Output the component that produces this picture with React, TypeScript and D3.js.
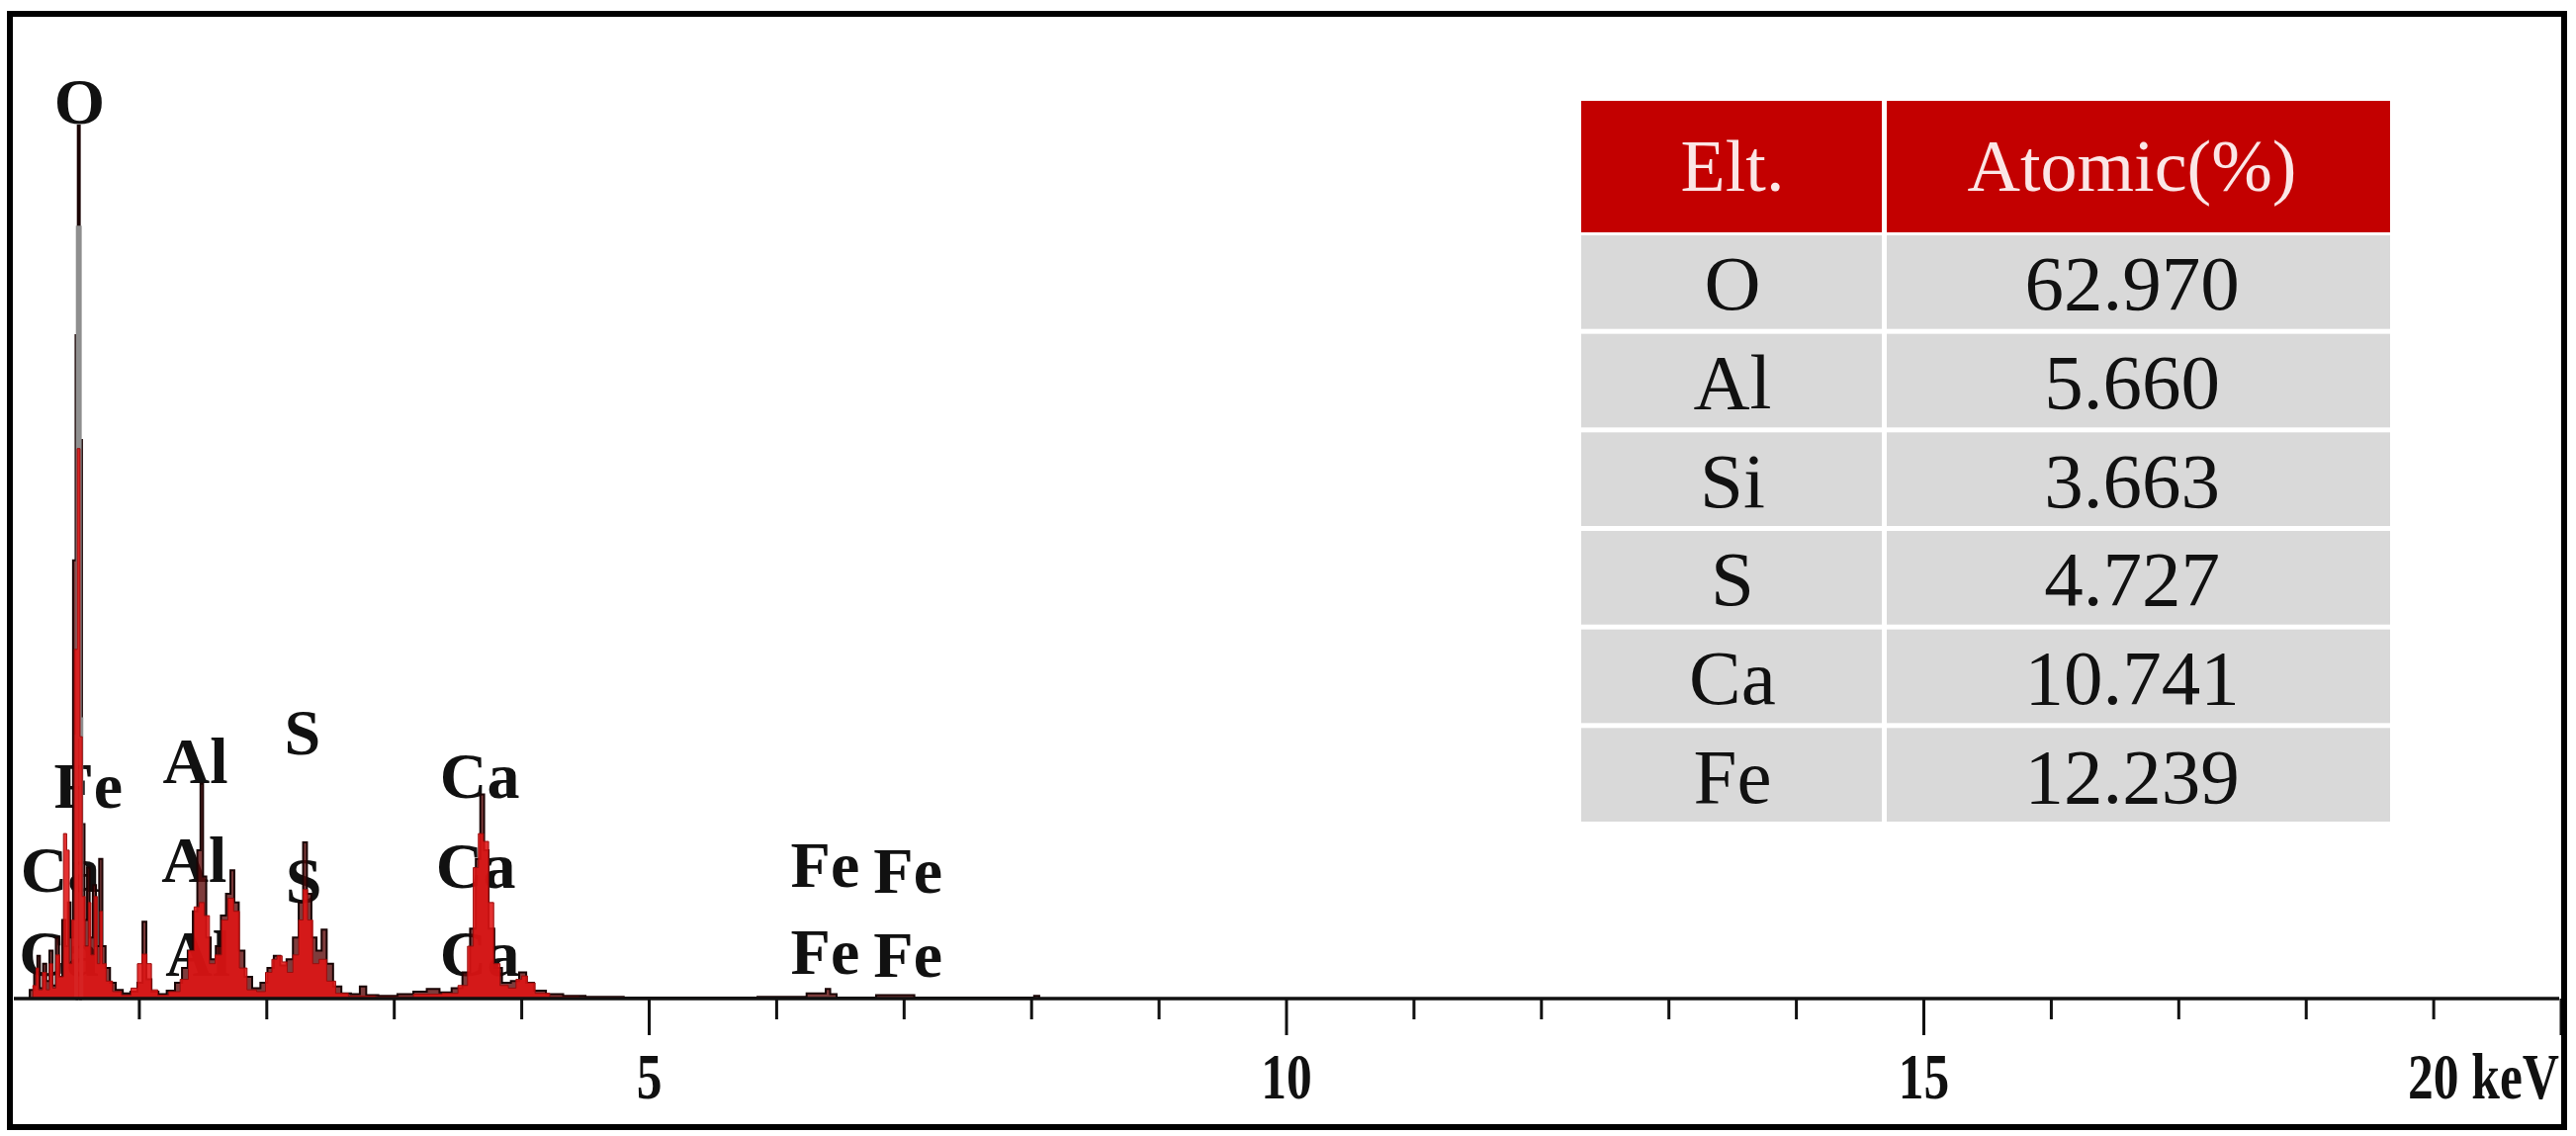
import React, { useRef, useEffect } from "react";
import * as d3 from "d3";

const W = 2605;
const H = 1149;

// spectrum: [energy keV, counts]
const lineSpectrum: [number, number][] = [
  [0.0, 0], [0.12, 0], [0.16, 10], [0.19, 30], [0.21, 49], [0.23, 12], [0.26, 40], [0.28, 20],
  [0.31, 55], [0.33, 15], [0.36, 70], [0.38, 25], [0.41, 90], [0.43, 60], [0.45, 110], [0.47, 70],
  [0.49, 502], [0.51, 760], [0.525, 1000], [0.54, 640], [0.56, 200], [0.58, 90], [0.6, 150],
  [0.62, 70], [0.65, 130], [0.67, 60], [0.7, 160], [0.72, 60], [0.75, 35], [0.79, 18], [0.84, 10],
  [0.9, 6], [0.96, 8], [1.01, 18], [1.04, 88], [1.07, 22], [1.12, 8], [1.18, 5], [1.25, 9],
  [1.31, 18], [1.36, 35], [1.4, 55], [1.44, 100], [1.47, 170], [1.49, 246], [1.51, 140], [1.54, 70],
  [1.58, 45], [1.62, 60], [1.66, 95], [1.7, 120], [1.73, 147], [1.76, 110], [1.8, 55], [1.85, 25],
  [1.92, 12], [1.98, 18], [2.03, 35], [2.08, 49], [2.13, 38], [2.18, 45], [2.23, 70], [2.27, 110],
  [2.3, 179], [2.33, 120], [2.37, 70], [2.41, 55], [2.45, 79], [2.49, 40], [2.55, 14], [2.62, 6],
  [2.7, 5], [2.76, 14], [2.8, 4], [2.95, 3], [3.1, 5], [3.2, 8], [3.31, 11], [3.4, 7], [3.5, 12],
  [3.57, 30], [3.62, 80], [3.66, 160], [3.69, 234], [3.72, 170], [3.76, 80], [3.81, 35], [3.88, 18],
  [3.95, 20], [4.01, 30], [4.06, 18], [4.13, 9], [4.25, 5], [4.4, 3], [4.6, 2], [5.0, 1], [5.6, 1],
  [6.1, 2], [6.37, 6], [6.4, 11], [6.44, 5], [6.5, 1], [7.06, 4], [7.1, 1], [8.0, 1], [8.04, 3],
  [8.08, 0], [20, 0],
];

const fillSpectrum: [number, number][] = [
  [0.0, 0], [0.15, 0], [0.18, 15], [0.2, 35], [0.22, 10], [0.26, 30], [0.28, 10], [0.31, 40],
  [0.33, 12], [0.36, 50], [0.39, 25], [0.42, 189], [0.44, 170], [0.46, 40], [0.48, 90], [0.5, 400],
  [0.525, 630], [0.545, 300], [0.56, 117], [0.59, 60], [0.61, 110], [0.63, 50], [0.66, 117],
  [0.68, 40], [0.7, 100], [0.72, 40], [0.76, 20], [0.82, 8], [0.9, 4], [0.97, 12], [1.0, 40],
  [1.04, 51], [1.08, 40], [1.11, 10], [1.18, 4], [1.28, 8], [1.36, 22], [1.41, 55], [1.45, 105],
  [1.49, 110], [1.53, 95], [1.57, 40], [1.62, 50], [1.67, 90], [1.72, 115], [1.76, 100], [1.81, 35],
  [1.88, 10], [1.96, 8], [2.02, 30], [2.06, 45], [2.1, 49], [2.14, 42], [2.18, 30], [2.23, 50],
  [2.27, 90], [2.3, 125], [2.34, 90], [2.38, 40], [2.44, 45], [2.5, 20], [2.58, 6], [2.7, 3],
  [3.0, 2], [3.3, 5], [3.45, 6], [3.55, 15], [3.6, 60], [3.64, 150], [3.68, 189], [3.72, 180],
  [3.76, 110], [3.8, 40], [3.86, 15], [3.93, 12], [3.98, 22], [4.02, 26], [4.07, 18], [4.14, 6],
  [4.3, 2], [4.6, 1], [5.0, 0], [20, 0],
];

const greySpectrum: [number, number][] = [
  [0.5, 0], [0.51, 300], [0.525, 883], [0.54, 320], [0.55, 0],
];

// peak labels: text, energy, height (counts)
const peakLabelText = ["O", "Fe", "Ca", "Ca", "Al", "Al", "Al", "S", "S", "Ca", "Ca", "Ca", "Fe", "Fe", "Fe", "Fe"];
const peakLabelKeV = [0.53, 0.6, 0.38, 0.37, 1.44, 1.43, 1.46, 2.28, 2.29, 3.67, 3.64, 3.67, 6.38, 7.03, 6.38, 7.03];
const peakLabelLevel = [1002, 219, 122, 26, 247, 134, 26, 280, 110, 230, 127, 26, 128, 121, 28, 25];

const tickValues = [1, 2, 3, 4, 5, 6, 7, 8, 9, 10, 11, 12, 13, 14, 15, 16, 17, 18, 19, 20];
const majorTicks = [5, 10, 15, 20];
const majorTickLabels = ["5", "10", "15", "20 keV"];

const tableHeader = ["Elt.", "Atomic(%)"];
const tableElements = ["O", "Al", "Si", "S", "Ca", "Fe"];
const tableAtomic = ["62.970", "5.660", "3.663", "4.727", "10.741", "12.239"];

const SERIF = "'Liberation Serif', 'Times New Roman', serif";

const EdsChart = () => {
  const svgRef = useRef(null);

  useEffect(() => {
    const svg = d3.select(svgRef.current);
    svg.selectAll("*").remove();

    const x = d3.scaleLinear().domain([0, 20]).range([12, 2590]);
    const y = d3.scaleLinear().domain([0, 1000]).range([1010, 127]);

    svg.append("rect").attr("width", W).attr("height", H).attr("fill", "#fff");

    svg.append("clipPath").attr("id", "inner")
      .append("rect").attr("x", 14).attr("y", 18).attr("width", 2574).attr("height", 1115);

    const plot = svg.append("g").attr("clip-path", "url(#inner)");

    // peak labels sit behind the spectrum
    plot.append("g")
      .selectAll("text")
      .data(peakLabelText)
      .enter()
      .append("text")
      .attr("x", (d, i) => x(peakLabelKeV[i]))
      .attr("y", (d, i) => y(peakLabelLevel[i]))
      .attr("text-anchor", "middle")
      .style("font-family", SERIF)
      .style("font-weight", "bold")
      .style("font-size", "66px")
      .attr("fill", "#111")
      .text((d) => d);

    const area = d3.area<[number, number]>()
      .x((d) => x(d[0]))
      .y0(y(0))
      .y1((d) => y(d[1]))
      .curve(d3.curveStep);
    const line = d3.line<[number, number]>()
      .x((d) => x(d[0]))
      .y((d) => y(d[1]))
      .curve(d3.curveStep);

    plot.append("path").attr("d", area(lineSpectrum))
      .attr("fill", "#5e0b0b").attr("fill-opacity", 0.8);
    plot.append("path").attr("d", line(lineSpectrum))
      .attr("fill", "none").attr("stroke", "#1a0404").attr("stroke-width", 2);
    plot.append("path").attr("d", line(greySpectrum))
      .attr("fill", "none").attr("stroke", "#8f8f8f").attr("stroke-width", 4);
    plot.append("path").attr("d", area(fillSpectrum))
      .attr("fill", "#e01414").attr("fill-opacity", 0.88)
      .attr("stroke", "#9a0d0d").attr("stroke-width", 1);

    // x axis
    const axis = svg.append("g");
    axis.append("line")
      .attr("x1", 14).attr("x2", 2588)
      .attr("y1", y(0)).attr("y2", y(0))
      .attr("stroke", "#111").attr("stroke-width", 3.5);
    axis.selectAll("line.tick")
      .data(tickValues)
      .enter()
      .append("line")
      .attr("class", "tick")
      .attr("x1", (d) => x(d)).attr("x2", (d) => x(d))
      .attr("y1", y(0))
      .attr("y2", (d) => y(0) + (d % 5 === 0 ? 37 : 21))
      .attr("stroke", "#111").attr("stroke-width", 3);
    axis.selectAll("g.lbl")
      .data(majorTicks)
      .enter()
      .append("g")
      .attr("class", "lbl")
      .attr("transform", (d) => `translate(${d === 20 ? 2588 : x(d)}, 1111) scale(0.78, 1)`)
      .append("text")
      .attr("text-anchor", (d) => (d === 20 ? "end" : "middle"))
      .style("font-family", SERIF)
      .style("font-weight", "bold")
      .style("font-size", "66px")
      .attr("fill", "#111")
      .text((d, i) => majorTickLabels[i]);

    // table
    const colX = [1599, 1908];
    const colW = [304, 509];
    const colMid = [1752, 2156];
    const rowY = d3.scaleBand().domain(tableElements).range([238, 831]).paddingInner(0.05);
    const tbl = svg.append("g");
    tableHeader.forEach((h, c) => {
      tbl.append("rect").attr("x", colX[c]).attr("y", 102).attr("width", colW[c]).attr("height", 133)
        .attr("fill", "#c30000");
      tbl.append("text").attr("x", colMid[c]).attr("y", 193).attr("text-anchor", "middle")
        .style("font-family", SERIF)
        .style("font-size", "74px").attr("fill", "#fbe6e6").text(h);
    });
    tableElements.forEach((el, i) => {
      const ry = rowY(el) as number;
      const bh = rowY.bandwidth();
      [el, tableAtomic[i]].forEach((v, c) => {
        tbl.append("rect").attr("x", colX[c]).attr("y", ry).attr("width", colW[c]).attr("height", bh)
          .attr("fill", "#d9d9d9");
        tbl.append("text").attr("x", colMid[c]).attr("y", ry + bh / 2 + 28).attr("text-anchor", "middle")
          .style("font-family", SERIF)
          .style("font-size", "79px").attr("fill", "#111").text(v);
      });
    });

    // frame
    svg.append("rect")
      .attr("x", 10).attr("y", 14).attr("width", 2583).attr("height", 1126)
      .attr("fill", "none").attr("stroke", "#000").attr("stroke-width", 6);
  }, []);

  return <svg ref={svgRef} width={W} height={H} style={{ position: "absolute", left: 0, top: 0 }}></svg>;
};

export default function App() {
  return <EdsChart />;
}
